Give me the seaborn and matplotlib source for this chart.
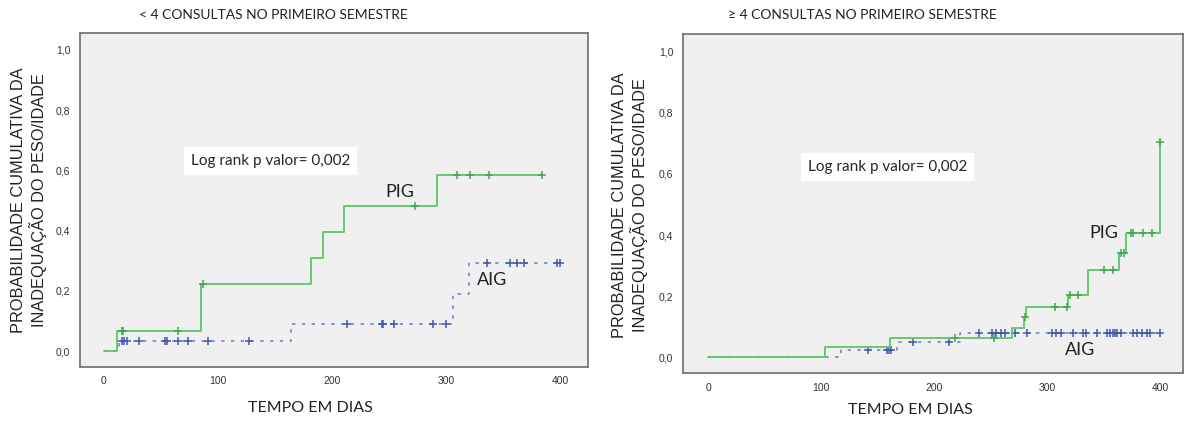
import numpy as np
import pandas as pd
import matplotlib
matplotlib.use("Agg")
import matplotlib.pyplot as plt
import seaborn as sns

# ---- Kaplan-Meier style cumulative curves (time in days, cumulative probability) ----
# < 4 consultations in the first semester
pig_lt_times = [0, 11, 85, 182, 192, 210.5, 292.5]
pig_lt_levels = [0.0, 0.065, 0.222, 0.308, 0.395, 0.481, 0.586]
pig_lt_end = 384.5
pig_lt_censor = [16, 17, 64.5, 86.5, 273, 310, 321.5, 338, 384.5]

aig_lt_times = [0, 13, 164, 306, 320]
aig_lt_levels = [0.0, 0.032, 0.090, 0.189, 0.291]
aig_lt_end = 401
aig_lt_censor = [15.5, 17.8, 20.5, 31, 53.5, 55.6, 64.6, 73.4, 91.5, 127,
                 213, 243.5, 245, 254, 289, 300, 336, 356, 362, 368.7, 397, 400]

# >= 4 consultations in the first semester
pig_ge_times = [0, 103.4, 161, 268.7, 280, 281.5, 318.3, 336.6, 364, 369.7, 400.5]
pig_ge_levels = [0.0, 0.033, 0.062, 0.097, 0.131, 0.166, 0.204, 0.286, 0.342, 0.406, 0.704]
pig_ge_end = 400.5
pig_ge_censor = [218.5, 253.3, 280.7, 307.4, 317.4, 320.4, 327.2, 350.5, 358.2,
                 365.3, 368.2, 374.1, 376.4, 385.3, 393, 400.5]

aig_ge_times = [0, 117.3, 166.9, 222.9]
aig_ge_levels = [0.0, 0.024, 0.051, 0.080]
aig_ge_end = 400
aig_ge_censor = [141.7, 158.5, 160.3, 162, 181, 213.5, 240, 251, 254.8, 259, 262.8,
                 271.7, 282, 304.2, 308, 312, 323.3, 331.6, 334.5, 344, 352.9, 355.8,
                 358.2, 360.2, 362.3, 365.3, 376.4, 380, 383.9, 388.3, 391.2, 400]

panel_titles = ["< 4 CONSULTAS NO PRIMEIRO SEMESTRE", "\u2265 4 CONSULTAS NO PRIMEIRO SEMESTRE"]
y_label = "PROBABILIDADE CUMULATIVA DA\nINADEQUA\u00c7\u00c3O DO PESO/IDADE"
x_label = "TEMPO EM DIAS"
annotation = "Log rank p valor= 0,002"
y_ticks = [0.0, 0.2, 0.4, 0.6, 0.8, 1.0]
y_tick_labels = ["0,0", "0,2", "0,4", "0,6", "0,8", "1,0"]
x_ticks = [0, 100, 200, 300, 400]

GREEN = "#5cc765"
GREEN_MK = "#3daa4a"
BLUE = "#6a7bc9"
BLUE_MK = "#4358b0"
LABEL_FONT = ["Lato", "DejaVu Sans"]
TICK_FONT = ["Liberation Sans", "DejaVu Sans"]

sns.set_style("white")
plt.rcParams["font.family"] = LABEL_FONT


def step_frame(times, levels, end):
    t = list(times) + [end]
    p = list(levels) + [levels[-1]]
    return pd.DataFrame({"tempo": t, "prob": p})


def censor_frame(times, levels, censor):
    times = np.asarray(times)
    levels = np.asarray(levels)
    idx = np.searchsorted(times, censor, side="right") - 1
    return pd.DataFrame({"tempo": censor, "prob": levels[idx]})


fig = plt.figure(figsize=(11.86, 4.21), dpi=100)
ax_l = fig.add_axes([0.0675, 0.129, 0.4283, 0.7933])
ax_r = fig.add_axes([0.5759, 0.1133, 0.4216, 0.806])

panels = [
    (ax_l, (pig_lt_times, pig_lt_levels, pig_lt_end, pig_lt_censor),
     (aig_lt_times, aig_lt_levels, aig_lt_end, aig_lt_censor),
     (-21, 424.6), (-0.052, 1.057)),
    (ax_r, (pig_ge_times, pig_ge_levels, pig_ge_end, pig_ge_censor),
     (aig_ge_times, aig_ge_levels, aig_ge_end, aig_ge_censor),
     (-22.4, 420.5), (-0.052, 1.058)),
]

for ax, pig, aig, xl, yl in panels:
    ax.set_facecolor("#f0f0f0")
    # AIG: dotted blue curve
    sns.lineplot(data=step_frame(aig[0], aig[1], aig[2]), x="tempo", y="prob", ax=ax,
                 estimator=None, sort=False, drawstyle="steps-post", color=BLUE,
                 linewidth=1.1, linestyle=(0, (2.2, 4.2)), zorder=2)
    sns.scatterplot(data=censor_frame(aig[0], aig[1], aig[3]), x="tempo", y="prob", ax=ax,
                    marker="+", s=38, color=BLUE_MK, linewidth=1.1, zorder=3)
    # PIG: solid green curve
    sns.lineplot(data=step_frame(pig[0], pig[1], pig[2]), x="tempo", y="prob", ax=ax,
                 estimator=None, sort=False, drawstyle="steps-post", color=GREEN,
                 linewidth=1.3, zorder=4)
    sns.scatterplot(data=censor_frame(pig[0], pig[1], pig[3]), x="tempo", y="prob", ax=ax,
                    marker="+", s=38, color=GREEN_MK, linewidth=1.1, zorder=5)

    ax.set_xlim(*xl)
    ax.set_ylim(*yl)
    ax.set_xticks(x_ticks)
    ax.set_xticklabels([str(v) for v in x_ticks], fontfamily=TICK_FONT, fontsize=7.5, color="#333333")
    ax.set_yticks(y_ticks)
    ax.set_yticklabels(y_tick_labels, fontfamily=TICK_FONT, fontsize=7.5, color="#333333")
    ax.tick_params(axis="both", direction="out", length=5, width=0.9, color="#444444", pad=2)
    ax.set_xlabel("")
    ax.set_ylabel("")
    for sp in ax.spines.values():
        sp.set_color("#6e6e6e")
        sp.set_linewidth(1.2)

# log-rank annotation boxes
ax_l.text(76, 0.631, annotation, fontsize=11, va="center", ha="left",
          bbox=dict(facecolor="white", edgecolor="none", boxstyle="square,pad=0.45"))
ax_r.text(88, 0.624, annotation, fontsize=11, va="center", ha="left",
          bbox=dict(facecolor="white", edgecolor="none", boxstyle="square,pad=0.45"))

# group labels next to the curves
ax_l.text(259.6, 0.528, "PIG", fontsize=13, ha="center", va="center", color="#222222")
ax_l.text(340.6, 0.236, "AIG", fontsize=13, ha="center", va="center", color="#222222")
ax_r.text(349.9, 0.408, "PIG", fontsize=13, ha="center", va="center", color="#222222")
ax_r.text(329.2, 0.024, "AIG", fontsize=13, ha="center", va="center", color="#222222")

# titles and axis labels
fig.text(273 / 1186, 1 - 15 / 421, panel_titles[0], fontsize=10, ha="center", va="center", color="#222222")
fig.text(862 / 1186, 1 - 15 / 421, panel_titles[1], fontsize=10, ha="center", va="center", color="#222222")
fig.text(310 / 1186, 1 - 408 / 421, x_label, fontsize=11.5, ha="center", va="center", color="#222222")
fig.text(910 / 1186, 1 - 410 / 421, x_label, fontsize=11.5, ha="center", va="center", color="#222222")
fig.text(29 / 1186, 1 - 200 / 421, y_label, fontsize=11.8, rotation=90, ha="center", va="center",
         family=TICK_FONT, color="#222222", linespacing=1.15)
fig.text(630 / 1186, 1 - 205 / 421, y_label, fontsize=11.8, rotation=90, ha="center", va="center",
         family=TICK_FONT, color="#222222", linespacing=1.15)

fig.savefig("out.png", dpi=100, facecolor="white")
